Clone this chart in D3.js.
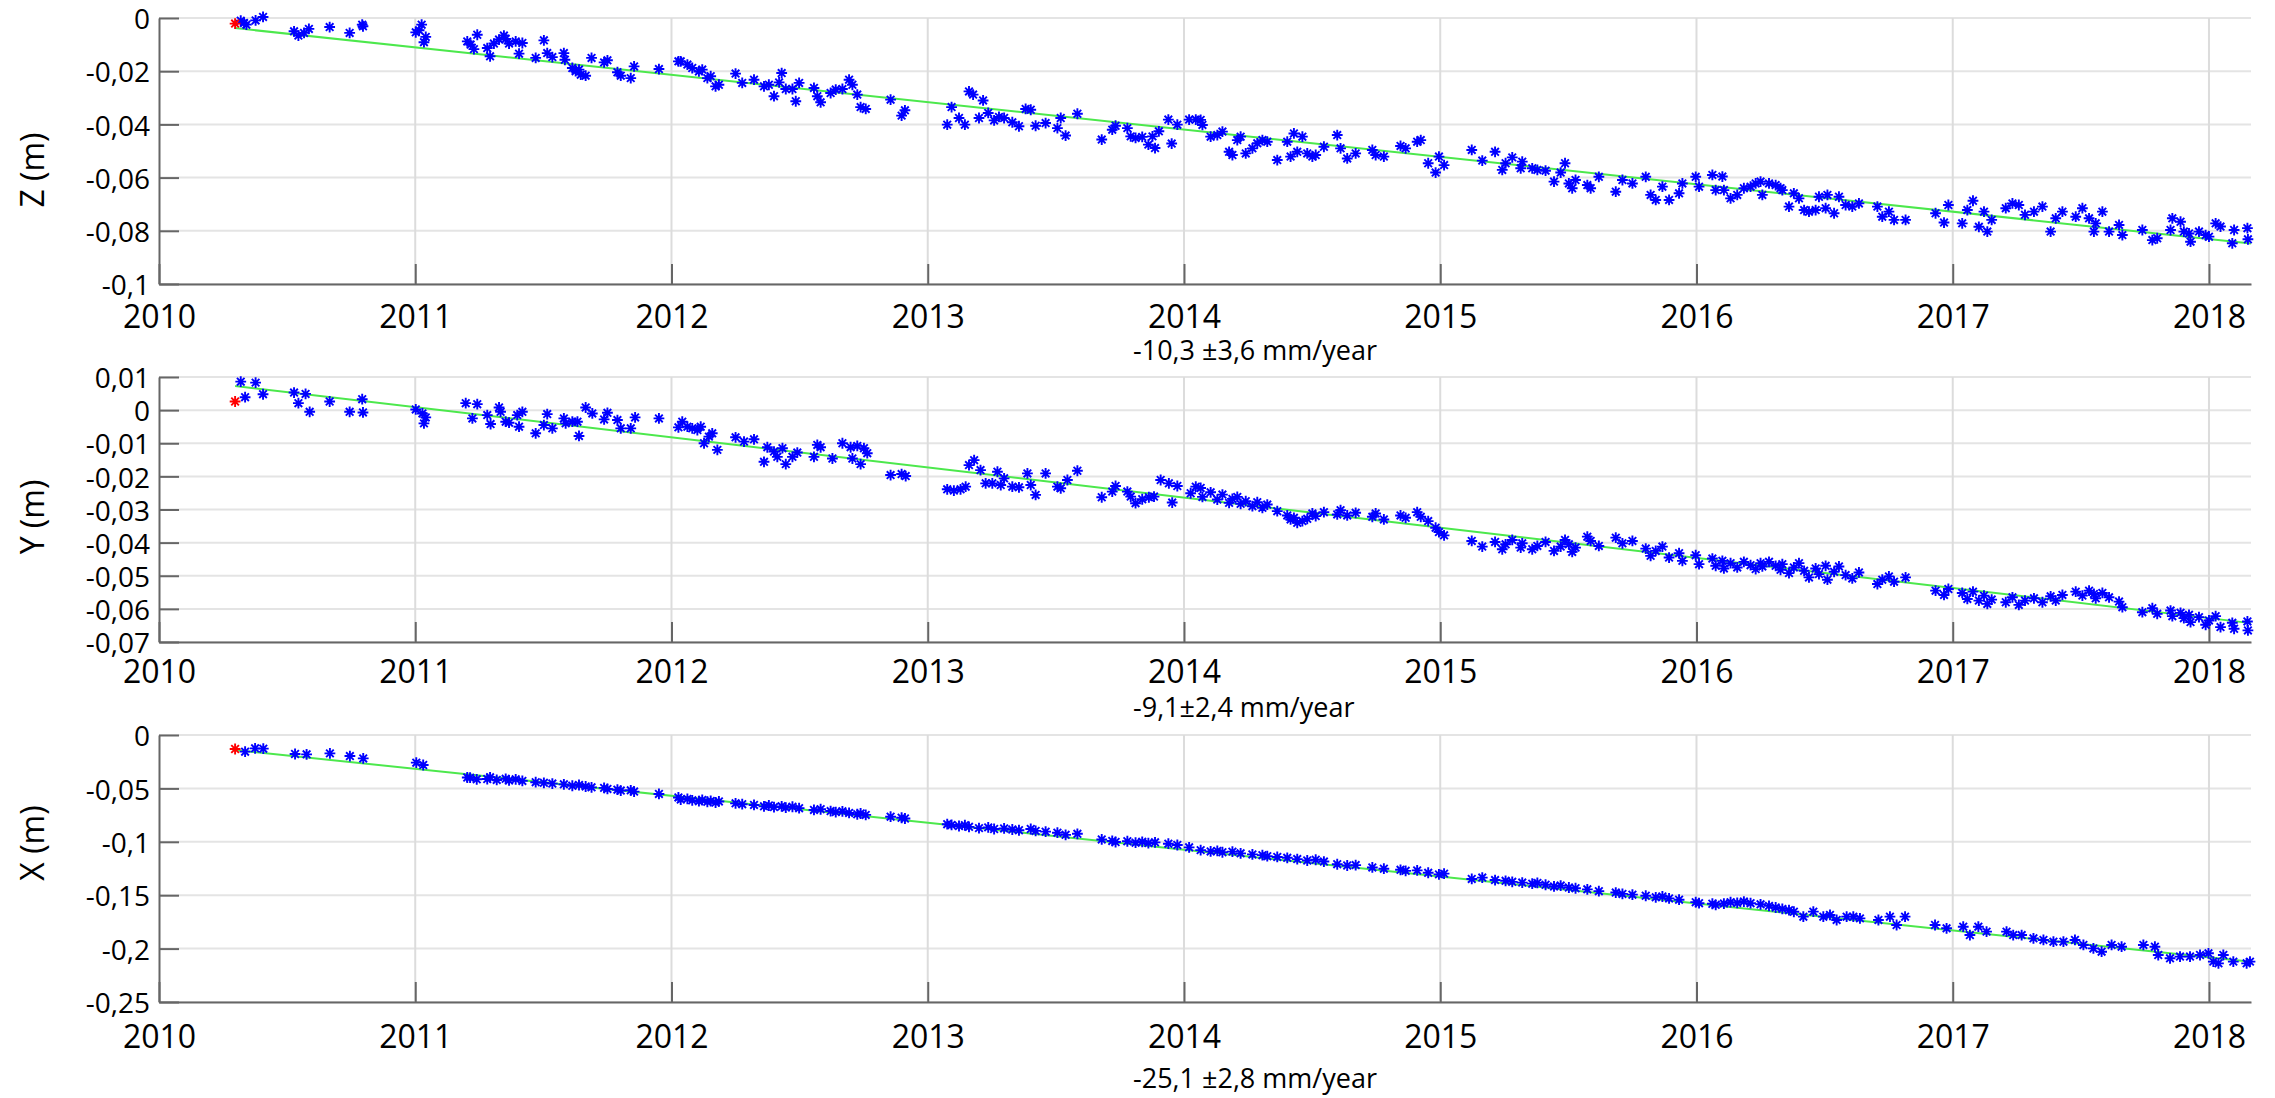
<!DOCTYPE html>
<html>
<head>
<meta charset="utf-8">
<script src="https://cdn.jsdelivr.net/npm/d3@7"></script>
<style>
body { margin: 0; background: #fff; }
text { font-family: "Open Sans", sans-serif; fill: #000; }
</style>
</head>
<body>
<div id="chart-area"></div>
<script>
var width = 2275;
var height = 1098;

var years = [2010, 2011, 2012, 2013, 2014, 2015, 2016, 2017, 2018];
var xDomain = [2010, 2018.164];

// Z component (m)
var zTicks = [0, -0.02, -0.04, -0.06, -0.08, -0.1];
var zTickLabels = ["0", "-0,02", "-0,04", "-0,06", "-0,08", "-0,1"];
var zFirst = [2010.297, -0.0021];
var zTrend = [[2010.297, -0.0038], [2018.164, -0.0848]];
var zPoints = [
  [2010.319,-0.0010],[2010.332,-0.0019],[2010.341,-0.0025],[2010.377,-0.0009],[2010.406,0.0004],
  [2010.527,-0.0050],[2010.544,-0.0066],[2010.566,-0.0056],[2010.585,-0.0041],[2010.666,-0.0034],
  [2010.744,-0.0056],[2010.793,-0.0025],[2010.796,-0.0031],[2011.002,-0.0054],[2011.015,-0.0046],
  [2011.025,-0.0025],[2011.041,-0.0071],[2011.034,-0.0091],[2011.203,-0.0088],[2011.216,-0.0100],
  [2011.242,-0.0063],[2011.229,-0.0117],[2011.281,-0.0113],[2011.292,-0.0144],[2011.307,-0.0096],
  [2011.327,-0.0081],[2011.346,-0.0066],[2011.353,-0.0079],[2011.366,-0.0096],[2011.392,-0.0088],
  [2011.418,-0.0094],[2011.405,-0.0134],[2011.470,-0.0150],[2011.502,-0.0084],[2011.515,-0.0132],
  [2011.535,-0.0147],[2011.580,-0.0132],[2011.584,-0.0157],[2011.613,-0.0188],[2011.626,-0.0200],
  [2011.639,-0.0194],[2011.646,-0.0213],[2011.665,-0.0217],[2011.688,-0.0150],[2011.737,-0.0167],
  [2011.750,-0.0159],[2011.789,-0.0204],[2011.802,-0.0217],[2011.841,-0.0226],[2011.854,-0.0182],
  [2011.951,-0.0192],[2012.027,-0.0163],
  [2012.036,-0.0163],[2012.062,-0.0175],[2012.081,-0.0188],[2012.107,-0.0201],[2012.120,-0.0194],
  [2012.140,-0.0226],[2012.153,-0.0219],[2012.172,-0.0257],[2012.185,-0.0251],[2012.250,-0.0209],
  [2012.276,-0.0244],[2012.322,-0.0232],[2012.361,-0.0257],[2012.380,-0.0251],[2012.400,-0.0294],
  [2012.420,-0.0242],[2012.430,-0.0207],[2012.446,-0.0267],[2012.472,-0.0267],[2012.485,-0.0313],
  [2012.498,-0.0244],[2012.556,-0.0263],[2012.569,-0.0294],[2012.582,-0.0317],[2012.621,-0.0282],
  [2012.641,-0.0269],[2012.667,-0.0267],[2012.693,-0.0232],[2012.706,-0.0251],[2012.725,-0.0288],
  [2012.738,-0.0335],[2012.758,-0.0342],[2012.855,-0.0307],[2012.898,-0.0367],[2012.911,-0.0347],
  [2013.076,-0.0401],[2013.093,-0.0335],[2013.122,-0.0376],[2013.145,-0.0401],[2013.161,-0.0276],
  [2013.177,-0.0288],[2013.216,-0.0310],[2013.200,-0.0376],[2013.236,-0.0357],[2013.259,-0.0385],
  [2013.278,-0.0372],[2013.298,-0.0376],[2013.330,-0.0392],[2013.356,-0.0407],[2013.382,-0.0342],
  [2013.402,-0.0345],[2013.421,-0.0405],[2013.460,-0.0395],[2013.506,-0.0414],[2013.519,-0.0376],
  [2013.538,-0.0442],[2013.584,-0.0360],[2013.679,-0.0457],[2013.720,-0.0420],[2013.733,-0.0405],
  [2013.779,-0.0414],[2013.792,-0.0445],[2013.811,-0.0451],[2013.837,-0.0447],[2013.861,-0.0476],
  [2013.877,-0.0445],[2013.887,-0.0489],[2013.902,-0.0426],[2013.939,-0.0382],[2013.952,-0.0472],
  [2013.974,-0.0401],[2014.020,-0.0382],[2014.046,-0.0382],
  [2014.065,-0.0383],[2014.072,-0.0402],[2014.104,-0.0446],[2014.130,-0.0440],[2014.150,-0.0427],
  [2014.176,-0.0503],[2014.189,-0.0515],[2014.208,-0.0459],[2014.221,-0.0446],[2014.241,-0.0509],
  [2014.267,-0.0490],[2014.286,-0.0471],[2014.306,-0.0459],[2014.325,-0.0465],[2014.364,-0.0534],
  [2014.403,-0.0465],[2014.416,-0.0521],[2014.429,-0.0434],[2014.442,-0.0503],[2014.462,-0.0446],
  [2014.481,-0.0509],[2014.501,-0.0521],[2014.514,-0.0515],[2014.546,-0.0484],[2014.598,-0.0440],
  [2014.611,-0.0490],[2014.637,-0.0528],[2014.670,-0.0509],[2014.735,-0.0496],[2014.748,-0.0515],
  [2014.780,-0.0521],[2014.845,-0.0481],[2014.865,-0.0490],[2014.910,-0.0465],[2014.924,-0.0459],
  [2014.953,-0.0546],[2014.982,-0.0581],[2014.995,-0.0521],[2015.015,-0.0553],[2015.123,-0.0496],
  [2015.164,-0.0536],[2015.214,-0.0503],[2015.242,-0.0571],[2015.255,-0.0546],[2015.281,-0.0524],
  [2015.314,-0.0565],[2015.320,-0.0540],[2015.359,-0.0565],[2015.379,-0.0571],[2015.411,-0.0574],
  [2015.444,-0.0615],[2015.470,-0.0581],[2015.487,-0.0546],[2015.502,-0.0622],[2015.515,-0.0640],
  [2015.528,-0.0609],[2015.574,-0.0628],[2015.587,-0.0640],[2015.619,-0.0597],[2015.685,-0.0653],
  [2015.711,-0.0609],[2015.750,-0.0622],[2015.802,-0.0597],[2015.821,-0.0665],[2015.841,-0.0684],
  [2015.867,-0.0634],[2015.893,-0.0684],[2015.932,-0.0659],[2015.945,-0.0622],[2015.997,-0.0597],
  [2016.010,-0.0634],[2016.062,-0.0590],[2016.075,-0.0647],
  [2016.101,-0.0596],[2016.107,-0.0647],[2016.133,-0.0678],[2016.159,-0.0665],[2016.185,-0.0640],
  [2016.211,-0.0634],[2016.231,-0.0622],[2016.250,-0.0615],[2016.257,-0.0665],[2016.283,-0.0622],
  [2016.309,-0.0628],[2016.328,-0.0640],[2016.335,-0.0647],[2016.361,-0.0709],[2016.380,-0.0659],
  [2016.400,-0.0678],[2016.420,-0.0722],[2016.439,-0.0728],[2016.465,-0.0722],[2016.478,-0.0672],
  [2016.504,-0.0715],[2016.511,-0.0665],[2016.537,-0.0734],[2016.556,-0.0672],[2016.582,-0.0703],
  [2016.608,-0.0709],[2016.634,-0.0697],[2016.706,-0.0709],[2016.725,-0.0747],[2016.751,-0.0728],
  [2016.771,-0.0759],[2016.816,-0.0759],[2016.933,-0.0734],[2016.966,-0.0769],[2016.983,-0.0703],
  [2017.037,-0.0772],[2017.057,-0.0722],[2017.079,-0.0687],[2017.102,-0.0785],[2017.122,-0.0728],
  [2017.135,-0.0803],[2017.152,-0.0759],[2017.207,-0.0715],[2017.233,-0.0697],[2017.258,-0.0703],
  [2017.282,-0.0740],[2017.317,-0.0728],[2017.350,-0.0709],[2017.382,-0.0803],[2017.402,-0.0753],
  [2017.428,-0.0728],[2017.480,-0.0747],[2017.506,-0.0715],[2017.532,-0.0753],[2017.551,-0.0803],
  [2017.558,-0.0772],[2017.584,-0.0728],[2017.610,-0.0803],[2017.649,-0.0778],[2017.662,-0.0816],
  [2017.740,-0.0797],[2017.779,-0.0835],[2017.798,-0.0828],[2017.850,-0.0797],[2017.857,-0.0753],
  [2017.889,-0.0766],[2017.902,-0.0803],[2017.922,-0.0810],[2017.928,-0.0841],[2017.961,-0.0803],
  [2017.987,-0.0816],[2018.000,-0.0822],[2018.026,-0.0772],[2018.045,-0.0784],[2018.091,-0.0847],
  [2018.098,-0.0797],[2018.150,-0.0790],[2018.152,-0.0832]
];

// Y component (m)
var yTicks = [0.01, 0, -0.01, -0.02, -0.03, -0.04, -0.05, -0.06, -0.07];
var yTickLabels = ["0,01", "0", "-0,01", "-0,02", "-0,03", "-0,04", "-0,05", "-0,06", "-0,07"];
var yFirst = [2010.297, 0.0026];
var yTrend = [[2010.297, 0.0073], [2018.164, -0.0643]];
var yPoints = [
  [2010.319,0.0086],[2010.336,0.0039],[2010.377,0.0083],[2010.406,0.0048],[2010.527,0.0053],
  [2010.544,0.0021],[2010.572,0.0049],[2010.588,-0.0005],[2010.666,0.0026],[2010.744,-0.0005],
  [2010.793,0.0033],[2010.796,-0.0007],[2011.002,0.0002],[2011.028,-0.0010],[2011.041,-0.0022],
  [2011.034,-0.0040],[2011.197,0.0021],[2011.223,-0.0025],[2011.242,0.0018],[2011.281,-0.0015],
  [2011.294,-0.0042],[2011.327,0.0008],[2011.333,-0.0005],[2011.353,-0.0035],[2011.366,-0.0038],
  [2011.398,-0.0015],[2011.405,-0.0050],[2011.418,-0.0005],[2011.470,-0.0070],[2011.502,-0.0045],
  [2011.515,-0.0012],[2011.535,-0.0055],[2011.580,-0.0025],[2011.587,-0.0040],[2011.613,-0.0035],
  [2011.633,-0.0035],[2011.639,-0.0078],[2011.665,0.0008],[2011.691,-0.0010],[2011.737,-0.0028],
  [2011.750,-0.0008],[2011.789,-0.0030],[2011.802,-0.0055],[2011.841,-0.0055],[2011.858,-0.0022],
  [2011.951,-0.0025],[2012.027,-0.0052],
  [2012.042,-0.0035],[2012.062,-0.0050],[2012.081,-0.0055],[2012.101,-0.0060],[2012.114,-0.0050],
  [2012.127,-0.0100],[2012.146,-0.0080],[2012.159,-0.0070],[2012.179,-0.0120],[2012.250,-0.0082],
  [2012.283,-0.0095],[2012.322,-0.0088],[2012.361,-0.0156],[2012.374,-0.0112],[2012.400,-0.0125],
  [2012.413,-0.0141],[2012.433,-0.0115],[2012.446,-0.0163],[2012.472,-0.0141],[2012.491,-0.0128],
  [2012.556,-0.0141],[2012.569,-0.0105],[2012.582,-0.0112],[2012.628,-0.0146],[2012.667,-0.0100],
  [2012.699,-0.0112],[2012.706,-0.0146],[2012.725,-0.0108],[2012.738,-0.0163],[2012.751,-0.0115],
  [2012.764,-0.0130],[2012.855,-0.0196],[2012.898,-0.0193],[2012.914,-0.0199],[2013.076,-0.0239],
  [2013.102,-0.0243],[2013.128,-0.0239],[2013.148,-0.0231],[2013.161,-0.0166],[2013.181,-0.0151],
  [2013.206,-0.0181],[2013.226,-0.0221],[2013.252,-0.0221],[2013.272,-0.0186],[2013.285,-0.0226],
  [2013.298,-0.0206],[2013.330,-0.0231],[2013.356,-0.0233],[2013.389,-0.0191],[2013.402,-0.0226],
  [2013.421,-0.0256],[2013.460,-0.0191],[2013.506,-0.0231],[2013.519,-0.0236],[2013.545,-0.0211],
  [2013.584,-0.0183],[2013.679,-0.0263],[2013.720,-0.0246],[2013.733,-0.0229],[2013.779,-0.0246],
  [2013.792,-0.0261],[2013.811,-0.0281],[2013.837,-0.0269],[2013.863,-0.0263],[2013.883,-0.0261],
  [2013.909,-0.0211],[2013.941,-0.0221],[2013.954,-0.0279],[2013.974,-0.0229],[2014.026,-0.0251],
  [2014.046,-0.0231],
  [2014.065,-0.0235],[2014.072,-0.0262],[2014.104,-0.0248],[2014.130,-0.0270],[2014.150,-0.0255],
  [2014.176,-0.0280],[2014.189,-0.0268],[2014.208,-0.0262],[2014.221,-0.0283],[2014.241,-0.0275],
  [2014.267,-0.0290],[2014.286,-0.0278],[2014.306,-0.0295],[2014.325,-0.0285],[2014.364,-0.0305],
  [2014.403,-0.0318],[2014.416,-0.0330],[2014.429,-0.0325],[2014.442,-0.0340],[2014.462,-0.0335],
  [2014.481,-0.0328],[2014.501,-0.0312],[2014.514,-0.0320],[2014.546,-0.0308],[2014.598,-0.0315],
  [2014.611,-0.0302],[2014.637,-0.0318],[2014.670,-0.0310],[2014.735,-0.0322],[2014.748,-0.0312],
  [2014.780,-0.0330],[2014.845,-0.0318],[2014.865,-0.0325],[2014.910,-0.0308],[2014.924,-0.0322],
  [2014.953,-0.0335],[2014.982,-0.0355],[2014.995,-0.0368],[2015.015,-0.0378],[2015.123,-0.0395],
  [2015.164,-0.0412],[2015.214,-0.0398],[2015.242,-0.0420],[2015.255,-0.0405],[2015.281,-0.0392],
  [2015.314,-0.0415],[2015.320,-0.0402],[2015.359,-0.0420],[2015.379,-0.0410],[2015.411,-0.0398],
  [2015.444,-0.0425],[2015.470,-0.0412],[2015.487,-0.0392],[2015.502,-0.0405],[2015.515,-0.0428],
  [2015.528,-0.0415],[2015.574,-0.0382],[2015.587,-0.0395],[2015.619,-0.0410],[2015.685,-0.0385],
  [2015.711,-0.0402],[2015.750,-0.0395],[2015.802,-0.0418],[2015.821,-0.0440],[2015.841,-0.0425],
  [2015.867,-0.0412],[2015.893,-0.0445],[2015.932,-0.0432],[2015.945,-0.0455],[2015.997,-0.0438],
  [2016.010,-0.0465],[2016.062,-0.0448],[2016.075,-0.0470],[2016.101,-0.0455],[2016.107,-0.0478],
  [2016.133,-0.0462],[2016.159,-0.0475],[2016.185,-0.0458],[2016.211,-0.0468],[2016.231,-0.0480],
  [2016.250,-0.0462],[2016.257,-0.0472],[2016.283,-0.0458],[2016.309,-0.0470],[2016.328,-0.0482],
  [2016.335,-0.0465],[2016.361,-0.0492],[2016.380,-0.0475],[2016.400,-0.0462],[2016.420,-0.0485],
  [2016.439,-0.0505],[2016.465,-0.0478],[2016.478,-0.0495],[2016.504,-0.0470],[2016.511,-0.0512],
  [2016.537,-0.0488],[2016.556,-0.0472],[2016.582,-0.0498],[2016.608,-0.0508],[2016.634,-0.0490],
  [2016.706,-0.0525],[2016.725,-0.0512],[2016.751,-0.0502],[2016.771,-0.0518],[2016.816,-0.0505],
  [2016.933,-0.0545],[2016.966,-0.0558],[2016.983,-0.0540],[2017.037,-0.0552],[2017.057,-0.0570],
  [2017.079,-0.0548],[2017.102,-0.0575],[2017.122,-0.0560],[2017.135,-0.0585],[2017.152,-0.0572],
  [2017.207,-0.0580],[2017.233,-0.0565],[2017.258,-0.0588],[2017.282,-0.0575],[2017.317,-0.0568],
  [2017.350,-0.0580],[2017.382,-0.0562],[2017.402,-0.0575],[2017.428,-0.0558],[2017.480,-0.0548],
  [2017.506,-0.0560],[2017.532,-0.0545],[2017.551,-0.0555],[2017.558,-0.0568],[2017.584,-0.0552],
  [2017.610,-0.0565],[2017.649,-0.0578],[2017.662,-0.0595],[2017.740,-0.0610],[2017.779,-0.0598],
  [2017.798,-0.0615],[2017.850,-0.0605],[2017.857,-0.0622],[2017.889,-0.0612],[2017.902,-0.0628],
  [2017.922,-0.0618],[2017.928,-0.0640],[2017.961,-0.0625],[2017.987,-0.0648],[2018.000,-0.0635],
  [2018.026,-0.0622],[2018.045,-0.0655],[2018.091,-0.0642],[2018.098,-0.0660],[2018.150,-0.0638],
  [2018.152,-0.0665]
];

// X component (m)
var xTicks = [0, -0.05, -0.1, -0.15, -0.2, -0.25];
var xTickLabels = ["0", "-0,05", "-0,1", "-0,15", "-0,2", "-0,25"];
var xFirst = [2010.297, -0.0131];
var xTrend = [[2010.297, -0.0140], [2018.164, -0.2123]];
var xPoints = [
  [2010.336,-0.0156],[2010.375,-0.0125],[2010.407,-0.0128],[2010.531,-0.0178],[2010.576,-0.0181],
  [2010.667,-0.0172],[2010.745,-0.0197],[2010.797,-0.0219],[2011.004,-0.0259],[2011.031,-0.0281],
  [2011.203,-0.0398],[2011.214,-0.0400],[2011.240,-0.0415],[2011.281,-0.0412],[2011.292,-0.0396],
  [2011.318,-0.0421],[2011.353,-0.0410],[2011.366,-0.0425],[2011.392,-0.0415],[2011.418,-0.0430],
  [2011.470,-0.0442],[2011.502,-0.0448],[2011.535,-0.0455],[2011.580,-0.0462],[2011.613,-0.0475],
  [2011.639,-0.0468],[2011.665,-0.0482],[2011.688,-0.0490],[2011.737,-0.0495],[2011.750,-0.0505],
  [2011.789,-0.0512],[2011.802,-0.0520],[2011.841,-0.0518],[2011.854,-0.0530],[2011.951,-0.0552],
  [2012.027,-0.0585],[2012.036,-0.0605],[2012.062,-0.0598],[2012.081,-0.0612],[2012.107,-0.0620],
  [2012.120,-0.0608],[2012.140,-0.0625],[2012.153,-0.0618],[2012.172,-0.0632],[2012.185,-0.0622],
  [2012.250,-0.0640],[2012.276,-0.0648],[2012.322,-0.0655],[2012.361,-0.0668],[2012.380,-0.0660],
  [2012.400,-0.0675],[2012.430,-0.0668],[2012.446,-0.0680],[2012.472,-0.0672],[2012.498,-0.0685],
  [2012.556,-0.0702],[2012.582,-0.0695],[2012.621,-0.0712],[2012.641,-0.0722],[2012.667,-0.0715],
  [2012.693,-0.0730],[2012.725,-0.0742],[2012.738,-0.0735],[2012.758,-0.0748],[2012.855,-0.0765],
  [2012.898,-0.0775],[2012.911,-0.0782],[2013.076,-0.0835],[2013.093,-0.0842],[2013.122,-0.0852],
  [2013.145,-0.0845],[2013.161,-0.0860],[2013.200,-0.0872],[2013.236,-0.0865],[2013.259,-0.0880],
  [2013.298,-0.0875],[2013.330,-0.0885],[2013.356,-0.0892],[2013.402,-0.0880],[2013.421,-0.0898],
  [2013.460,-0.0905],[2013.506,-0.0915],[2013.538,-0.0935],[2013.584,-0.0925],[2013.679,-0.0978],
  [2013.720,-0.0992],[2013.733,-0.1002],[2013.779,-0.0995],[2013.811,-0.1008],[2013.837,-0.1000],
  [2013.861,-0.1012],[2013.887,-0.1005],[2013.939,-0.1018],[2013.974,-0.1030],[2014.020,-0.1052],
  [2014.065,-0.1078],[2014.104,-0.1090],[2014.130,-0.1085],[2014.150,-0.1098],[2014.189,-0.1092],
  [2014.221,-0.1108],[2014.267,-0.1118],[2014.306,-0.1125],[2014.325,-0.1135],[2014.364,-0.1142],
  [2014.403,-0.1150],[2014.442,-0.1162],[2014.481,-0.1175],[2014.514,-0.1168],[2014.546,-0.1185],
  [2014.598,-0.1210],[2014.637,-0.1222],[2014.670,-0.1218],[2014.735,-0.1240],[2014.780,-0.1252],
  [2014.845,-0.1262],[2014.865,-0.1272],[2014.910,-0.1268],[2014.953,-0.1290],[2014.995,-0.1305],
  [2015.015,-0.1298],[2015.123,-0.1348],[2015.164,-0.1335],[2015.214,-0.1358],[2015.255,-0.1365],
  [2015.281,-0.1375],[2015.320,-0.1382],[2015.359,-0.1392],[2015.379,-0.1385],[2015.411,-0.1402],
  [2015.444,-0.1418],[2015.470,-0.1410],[2015.502,-0.1428],[2015.528,-0.1435],[2015.574,-0.1445],
  [2015.619,-0.1462],[2015.685,-0.1475],[2015.711,-0.1488],[2015.750,-0.1495],[2015.802,-0.1505],
  [2015.841,-0.1520],[2015.867,-0.1512],[2015.893,-0.1530],[2015.932,-0.1542],[2015.997,-0.1565],
  [2016.010,-0.1575],[2016.062,-0.1580],[2016.075,-0.1590],[2016.107,-0.1578],[2016.133,-0.1565],
  [2016.159,-0.1572],[2016.185,-0.1560],[2016.211,-0.1575],[2016.250,-0.1585],[2016.283,-0.1600],
  [2016.309,-0.1615],[2016.335,-0.1628],[2016.361,-0.1640],[2016.380,-0.1655],
  [2016.417,-0.1701],[2016.456,-0.1654],[2016.495,-0.1701],[2016.521,-0.1685],[2016.547,-0.1732],
  [2016.586,-0.1701],[2016.612,-0.1701],[2016.638,-0.1717],[2016.710,-0.1732],[2016.755,-0.1701],
  [2016.781,-0.1779],[2016.814,-0.1701],[2016.931,-0.1779],[2016.976,-0.1810],[2017.041,-0.1795],
  [2017.067,-0.1873],[2017.100,-0.1795],[2017.132,-0.1841],[2017.210,-0.1841],[2017.236,-0.1873],
  [2017.269,-0.1873],[2017.315,-0.1904],[2017.354,-0.1919],[2017.393,-0.1935],[2017.432,-0.1935],
  [2017.477,-0.1919],[2017.510,-0.1966],[2017.549,-0.1998],[2017.581,-0.2029],[2017.620,-0.1966],
  [2017.659,-0.1982],[2017.744,-0.1966],[2017.789,-0.1982],[2017.802,-0.2060],[2017.848,-0.2091],
  [2017.887,-0.2075],[2017.926,-0.2075],[2017.965,-0.2060],[2017.998,-0.2044],[2018.017,-0.2122],
  [2018.037,-0.2138],[2018.056,-0.2060],[2018.095,-0.2122],[2018.147,-0.2138],[2018.160,-0.2122]
];

var panels = [
  {label: "Z (m)", ticks: zTicks, labels: zTickLabels, points: zPoints, trend: zTrend, first: zFirst,
   rate: "-10,3 \u00b13,6 mm/year", top: 18, bottom: 284, labelPad: 21, rateY: 360, titleY: 170},
  {label: "Y (m)", ticks: yTicks, labels: yTickLabels, points: yPoints, trend: yTrend, first: yFirst,
   rate: "-9,1\u00b12,4 mm/year", top: 377, bottom: 642, labelPad: 18, rateY: 717, titleY: 517},
  {label: "X (m)", ticks: xTicks, labels: xTickLabels, points: xPoints, trend: xTrend, first: xFirst,
   rate: "-25,1 \u00b12,8 mm/year", top: 735, bottom: 1002, labelPad: 23, rateY: 1088, titleY: 843}
];

var svg = d3.select('#chart-area')
  .append('svg')
  .attr('width', width)
  .attr('height', height);

var xScale = d3.scaleLinear().domain(xDomain).range([159, 2251]);

// MATLAB style '*' marker
var r = 5.4, a = r * 0.7071;
var star = "M" + (-r) + ",0L" + r + ",0M0," + (-r) + "L0," + r +
  "M" + (-a) + "," + (-a) + "L" + a + "," + a + "M" + (-a) + "," + a + "L" + a + "," + (-a);

panels.forEach(function(p) {
  var yScale = d3.scaleLinear()
    .domain([d3.min(p.ticks), d3.max(p.ticks)])
    .range([p.bottom, p.top]);
  var g = svg.append("g");

  // grid
  g.selectAll(".hgrid").data(p.ticks).enter().append("line")
    .attr("x1", 159).attr("x2", 2251)
    .attr("y1", d => yScale(d)).attr("y2", d => yScale(d))
    .attr("stroke", "#e4e4e4").attr("stroke-width", 2);
  g.selectAll(".vgrid").data(years.slice(1)).enter().append("line")
    .attr("x1", d => xScale(d)).attr("x2", d => xScale(d))
    .attr("y1", p.top).attr("y2", p.bottom)
    .attr("stroke", "#dcdcdc").attr("stroke-width", 2);

  // axes, ticks pointing inwards
  var yAxis = d3.axisLeft(yScale).tickValues(p.ticks)
    .tickFormat((d, i) => p.labels[i])
    .tickSizeInner(-20).tickSizeOuter(0).tickPadding(9);
  var ya = g.append("g").attr("transform", "translate(159,0)").call(yAxis);

  var xAxis = d3.axisBottom(xScale).tickValues(years)
    .tickFormat(d3.format("d"))
    .tickSizeInner(-20).tickSizeOuter(0).tickPadding(p.labelPad);
  var xa = g.append("g").attr("transform", "translate(0," + p.bottom + ")").call(xAxis);

  [ya, xa].forEach(function(ax) {
    ax.attr("font-family", null).attr("font-size", null);
    ax.selectAll("path, line").attr("stroke", "#666").attr("stroke-width", 2);
  });
  ya.selectAll("text").attr("font-size", "28px").attr("dy", "0.38em");
  xa.selectAll("text").attr("font-size", "32px");

  // linear fit
  g.append("path")
    .datum(p.trend)
    .attr("d", d3.line().x(d => xScale(d[0])).y(d => yScale(d[1])))
    .attr("fill", "none").attr("stroke", "#4ce84c").attr("stroke-width", 2);

  // observations
  g.selectAll(".obs").data(p.points).enter().append("path")
    .attr("d", star)
    .attr("transform", d => "translate(" + xScale(d[0]) + "," + yScale(d[1]) + ")")
    .attr("fill", "none").attr("stroke", "#0000ff").attr("stroke-width", 1.9);

  g.append("path")
    .attr("d", star)
    .attr("transform", "translate(" + xScale(p.first[0]) + "," + yScale(p.first[1]) + ")")
    .attr("fill", "none").attr("stroke", "#ff0000").attr("stroke-width", 1.9);

  // titles
  g.append("text")
    .attr("transform", "translate(44," + p.titleY + ") rotate(-90)")
    .attr("text-anchor", "middle")
    .attr("font-size", "32px")
    .text(p.label);

  g.append("text")
    .attr("x", 1133).attr("y", p.rateY)
    .attr("font-size", "27px")
    .text(p.rate);
});
</script>
</body>
</html>
